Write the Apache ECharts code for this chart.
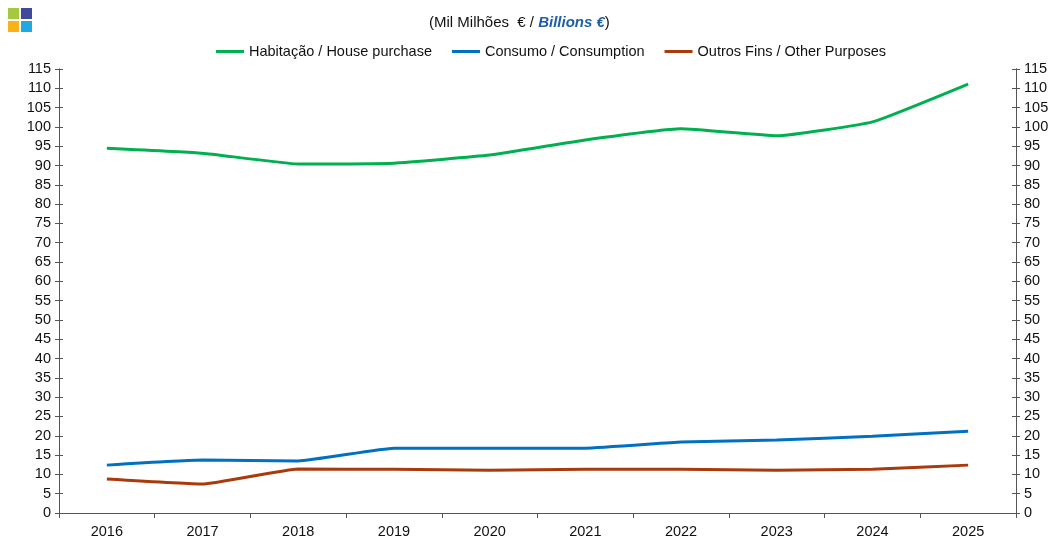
<!DOCTYPE html>
<html>
<head>
<meta charset="utf-8">
<script src="https://cdn.jsdelivr.net/npm/echarts@6/dist/echarts.min.js"></script>
<style>html,body{margin:0;padding:0;background:#fff}#c{width:1056px;height:539px}</style>
</head>
<body>
<div id="c"></div>
<script>
const years = ['2016','2017','2018','2019','2020','2021','2022','2023','2024','2025'];
const housePurchase = [94.5, 93.2, 90.4, 90.6, 92.7, 96.6, 99.5, 97.7, 101.3, 111.1];
const consumption = [12.4, 13.7, 13.5, 16.8, 16.8, 16.8, 18.4, 18.9, 19.9, 21.2];
const otherPurposes = [8.8, 7.5, 11.4, 11.3, 11.1, 11.3, 11.3, 11.1, 11.3, 12.4];
const seriesNames = ['Habitação / House purchase', 'Consumo / Consumption', 'Outros Fins / Other Purposes'];

const chart = echarts.init(document.getElementById('c'), null, {renderer: 'canvas'});
const font = 'Liberation Sans, Arial, sans-serif';
const axisColor = '#555';
function yAx(pos, show, inside) {
  return {
    type: 'value', position: pos, min: 0, max: 115, interval: 5,
    axisLine: {show: true, lineStyle: {color: axisColor, width: 1}},
    axisTick: {show: true, inside: inside, length: 4, lineStyle: {color: axisColor}},
    axisLabel: {show: show, color: '#111', fontFamily: font, fontSize: 14.5, margin: 8},
    splitLine: {show: false}
  };
}
chart.setOption({
  animation: false,
  textStyle: {fontFamily: font},
  title: {
    text: '(Mil Milhões  € / {b|Billions €})',
    left: 424, top: 10,
    textStyle: {fontSize: 15, fontWeight: 'normal', color: '#111', fontFamily: font,
      rich: {b: {fontSize: 15, fontWeight: 'bold', fontStyle: 'italic', color: '#1f5fa8', fontFamily: font}}}
  },
  legend: {
    top: 39, left: 211, itemWidth: 28, itemHeight: 3, itemGap: 20,
    icon: 'rect',
    textStyle: {fontSize: 14.5, color: '#111', fontFamily: font},
    data: seriesNames
  },
  graphic: [
    {type: 'rect', shape: {x: 8, y: 8, width: 11, height: 11}, style: {fill: '#a6c83f'}},
    {type: 'rect', shape: {x: 21, y: 8, width: 11, height: 11}, style: {fill: '#3f4a9c'}},
    {type: 'rect', shape: {x: 8, y: 21, width: 11, height: 11}, style: {fill: '#f9b21a'}},
    {type: 'rect', shape: {x: 21, y: 21, width: 11, height: 11}, style: {fill: '#22a8e0'}}
  ],
  grid: {left: 59, right: 40, top: 69, bottom: 26, containLabel: false},
  xAxis: {
    type: 'category', data: years, boundaryGap: true,
    axisLine: {lineStyle: {color: axisColor}},
    axisTick: {show: true, length: 5, alignWithLabel: false, lineStyle: {color: axisColor}},
    axisLabel: {color: '#111', fontSize: 14.5, fontFamily: font, margin: 11}
  },
  yAxis: [yAx('left', true, false), yAx('right', true, false), yAx('left', false, true), yAx('right', false, true)],
  series: [
    {name: seriesNames[0], type: 'line', data: housePurchase, yAxisIndex: 0, smooth: 0.12, symbol: 'none',
      lineStyle: {color: '#00b050', width: 3}, itemStyle: {color: '#00b050'}},
    {name: seriesNames[1], type: 'line', data: consumption, yAxisIndex: 0, smooth: 0.12, symbol: 'none',
      lineStyle: {color: '#0070c0', width: 3}, itemStyle: {color: '#0070c0'}},
    {name: seriesNames[2], type: 'line', data: otherPurposes, yAxisIndex: 0, smooth: 0.12, symbol: 'none',
      lineStyle: {color: '#a93a0c', width: 3}, itemStyle: {color: '#a93a0c'}}
  ]
});
</script>
</body>
</html>
